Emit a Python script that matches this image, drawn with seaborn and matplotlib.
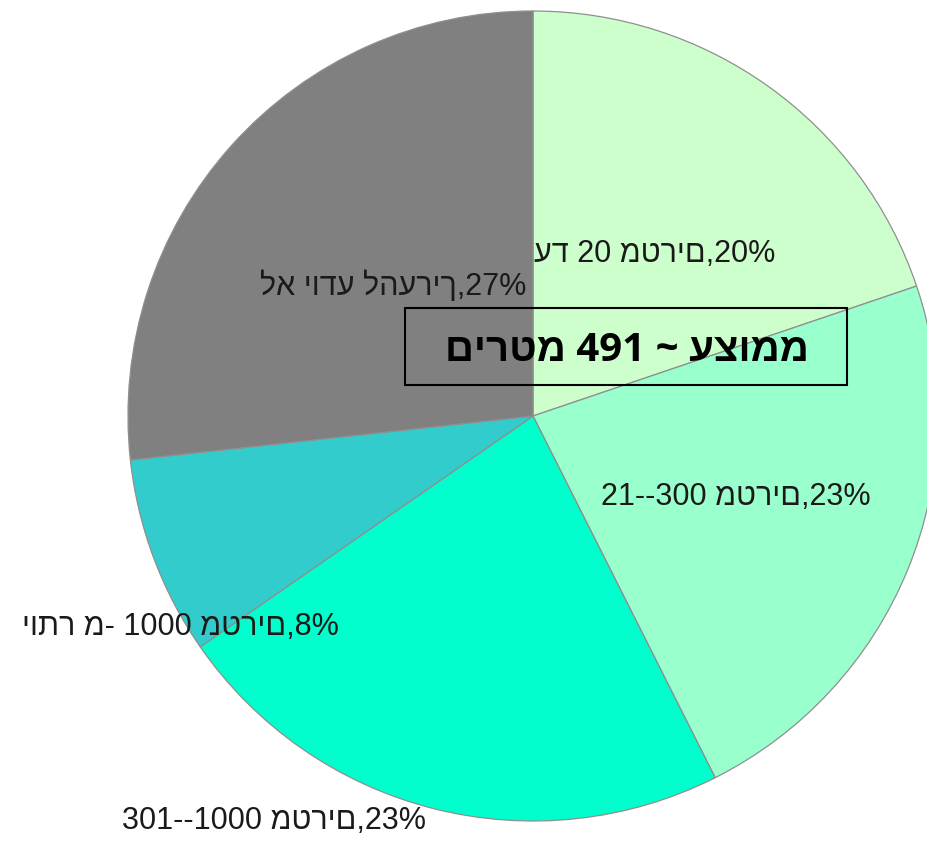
import matplotlib
matplotlib.use("Agg")
import matplotlib.pyplot as plt
from matplotlib.patches import Rectangle
import seaborn as sns

# Data
categories = ["עד 20 מטרים", "21--300 מטרים", "301--1000 מטרים", "יותר מ- 1000 מטרים", "לא יודע להעריך"]
shares = [20, 23, 23, 8, 27]
colors = ["#ccffcc", "#99ffcc", "#00ffcc", "#33cccc", "#808080"]
average_text = "םירטמ 491 ~ עצוממ"  # visual order as displayed

# label positions in pie data coordinates (radius = 1)
label_pos = [(0.30, 0.40), (0.50, -0.20), (-0.64, -1.0), (-0.87, -0.52), (-0.345, 0.32)]

sns.set_theme(style="white")
plt.rcParams["font.family"] = ["Liberation Sans", "DejaVu Sans"]

fig = plt.figure(figsize=(9.27, 8.49), dpi=100)
cx, cy, r = 533, 416, 405
W, H = 927, 849
ax = fig.add_axes([(cx - r) / W, 1 - (cy + r) / H, 2 * r / W, 2 * r / H])
ax.pie(shares, colors=colors, startangle=90, counterclock=False, radius=1,
       wedgeprops=dict(edgecolor="#8f8f8f", linewidth=0.9))
ax.set_xlim(-1, 1)
ax.set_ylim(-1, 1)
ax.set_aspect("equal")
ax.axis("off")

for cat, val, (x, y) in zip(categories, shares, label_pos):
    ax.text(x, y, f"{cat},{val}%", ha="center", va="center", fontsize=22,
            color="#1a1a1a", clip_on=False)

# average box
bx0, bx1, by0, by1 = 405, 847, 308, 385
fig.patches.append(Rectangle((bx0 / W, 1 - by1 / H), (bx1 - bx0) / W, (by1 - by0) / H,
                             transform=fig.transFigure, fill=False, edgecolor="black",
                             linewidth=1.5))
fig.text(627 / W, 1 - 350 / H, average_text, ha="center", va="center", fontsize=29,
         fontweight="bold", color="black",
         family=["Open Sans", "Liberation Sans", "DejaVu Sans"])

fig.savefig("out.png", dpi=100)
